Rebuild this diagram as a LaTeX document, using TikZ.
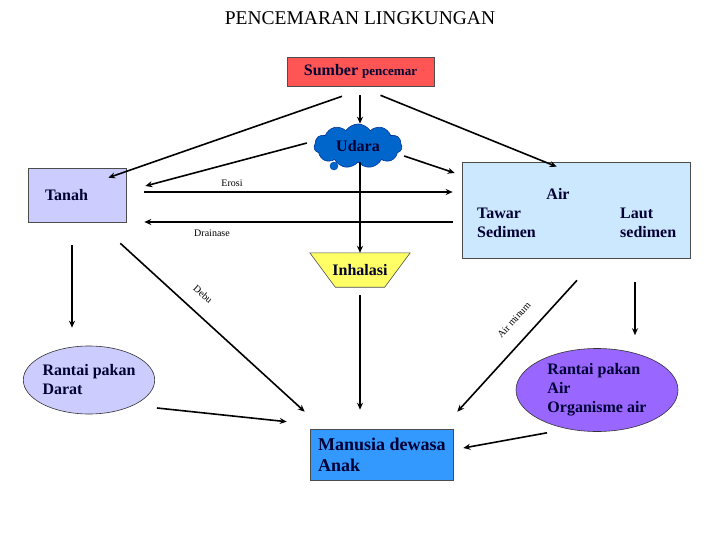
\documentclass[tikz,border=0pt]{standalone}
\usepackage{fontspec}
\setmainfont{Liberation Serif}
\usetikzlibrary{arrows.meta,shapes.geometric,shapes.symbols}
\definecolor{SourceRed}{HTML}{FF5555}
\definecolor{AirCloud}{HTML}{0066CC}
\definecolor{CloudEdge}{HTML}{003399}
\definecolor{SoilLilac}{HTML}{CCCCFF}
\definecolor{WaterBlue}{HTML}{CCE8FF}
\definecolor{InhaleYellow}{HTML}{FFFF66}
\definecolor{ChainPurple}{HTML}{9966FF}
\definecolor{HumanBlue}{HTML}{3399FF}
\definecolor{InkNavy}{HTML}{000033}

\begin{document}
\begin{tikzpicture}[x=1pt,y=-1pt,
  flow/.style={-{Stealth[length=7pt,width=6pt]},line width=1.6pt},
  tag/.style={font=\fontsize{10}{10}\selectfont,inner sep=0pt},
  big/.style={font=\bfseries\fontsize{16}{19}\selectfont,text=InkNavy,inner sep=0pt},
  box/.style={draw=black!70,line width=0.6pt,inner sep=0pt},
  blob/.style={ellipse,draw=black!80,line width=0.6pt,inner sep=0pt}]
  \useasboundingbox (0,0) rectangle (720,540);
  \node (title) at (360,18) {\fontsize{19.5}{22}\selectfont PENCEMARAN LINGKUNGAN};
  % sources
  \node[box,fill=SourceRed,minimum width=147pt,minimum height=29pt,big] (src) at (360.5,71.5) {Sumber {\fontsize{13}{16}\selectfont pencemar}};
  \node[cloud,cloud puffs=11,cloud puff arc=115,aspect=2.1,draw=CloudEdge,fill=AirCloud,line width=0.6pt,minimum width=88pt,minimum height=44pt,big] (udara) at (358,146) {Udara};
  \node[circle,draw=CloudEdge,fill=AirCloud,minimum size=8pt,inner sep=0pt] (puff) at (334,166) {};
  \node[box,fill=SoilLilac,minimum width=98pt,minimum height=54pt,text width=64pt,inner xsep=17pt,align=left,big] (tanah) at (77,195) {Tanah};
  \node[box,fill=WaterBlue,minimum width=228pt,minimum height=96pt] (air) at (576,210) {};
  \node[big] (airlbl) at (558,194) {Air};
  \node[big,anchor=west,align=left] (tawar) at (477,222.5) {Tawar\\Sedimen};
  \node[big,anchor=west,align=left] (laut) at (620,222.5) {Laut\\sedimen};
  \node[minimum width=100pt,minimum height=34pt,inner sep=0pt] (inh) at (360,270) {};
  \draw[draw=black!70,line width=0.6pt,fill=InhaleYellow] (inh.north west) -- (inh.north east) -- ([xshift=-25.5pt]inh.south east) -- ([xshift=25.5pt]inh.south west) -- cycle;
  \node[big] (inhlbl) at (360,270) {Inhalasi};
  % receivers
  \node[blob,fill=SoilLilac,minimum width=128pt,minimum height=68pt,align=left,big] (darat) at (89,380) {Rantai pakan\\Darat};
  \node[blob,fill=ChainPurple,minimum width=162pt,minimum height=83pt,align=left,big] (rair) at (597,390) {Rantai pakan\\Air\\Organisme air};
  \node[box,fill=HumanBlue,minimum width=143pt,minimum height=51pt] (manusia) at (381.5,454.5) {};
  \node[anchor=west,align=left,inner sep=0pt,font=\bfseries\fontsize{18}{21}\selectfont,text=InkNavy] (manlbl) at (318,455) {Manusia dewasa\\Anak};
  % connectors
  \draw[flow] ([xshift=-18.5pt,yshift=-10pt]src.south) -- ([xshift=-18pt,yshift=-10pt]tanah.north east);
  \draw[flow] ([xshift=-0.5pt,yshift=-9pt]src.south) -- ([xshift=2pt]udara.north);
  \draw[flow] ([xshift=20pt,yshift=-9pt]src.south) -- ([xshift=95pt,yshift=-5pt]air.north west);
  \draw[flow] ([xshift=-7pt,yshift=3pt]udara.west) -- ([xshift=19pt,yshift=9pt]tanah.east);
  \draw[flow] ([xshift=2pt,yshift=-10pt]udara.east) -- ([xshift=-7pt,yshift=37pt]air.west);
  \draw[flow,line width=2pt] ([xshift=18pt,yshift=3pt]tanah.east) -- ([xshift=-9pt,yshift=18pt]air.west);
  \draw[flow,line width=2pt] ([xshift=-9pt,yshift=-12pt]air.west) -- ([xshift=18pt,yshift=-27pt]tanah.east);
  \draw[flow] ([xshift=2pt]udara.south) -- (inh.north);
  \draw[flow] ([yshift=-8pt]inh.south) -- ([xshift=-21.5pt,yshift=19pt]manusia.north);
  \draw[flow] ([xshift=-6pt,yshift=-21pt]tanah.south east) -- ([xshift=-5pt,yshift=17pt]manusia.north west);
  \draw[flow] ([xshift=1pt,yshift=-22pt]air.south) -- ([xshift=4pt,yshift=17pt]manusia.north east);
  \draw[flow] ([xshift=-5pt,yshift=-23pt]tanah.south) -- ([xshift=-17pt,yshift=18pt]darat.north);
  \draw[flow] ([xshift=59pt,yshift=-24pt]air.south) -- ([xshift=38pt,yshift=13pt]rair.north);
  \draw[flow] ([xshift=2pt,yshift=-28pt]darat.east) -- ([xshift=-23pt,yshift=7pt]manusia.north west);
  \draw[flow] ([xshift=-50pt,yshift=-1pt]rair.south) -- ([xshift=10pt,yshift=6.5pt]manusia.east);
  % small labels
  \node[tag] (erosi) at (232,183) {Erosi};
  \node[tag] (drainase) at (212,233) {Drainase};
  \node[tag,rotate=-42] (debu) at (203,294) {Debu};
  \node[tag,rotate=48] (minum) at (514,320) {Air minum};
\end{tikzpicture}
\end{document}
